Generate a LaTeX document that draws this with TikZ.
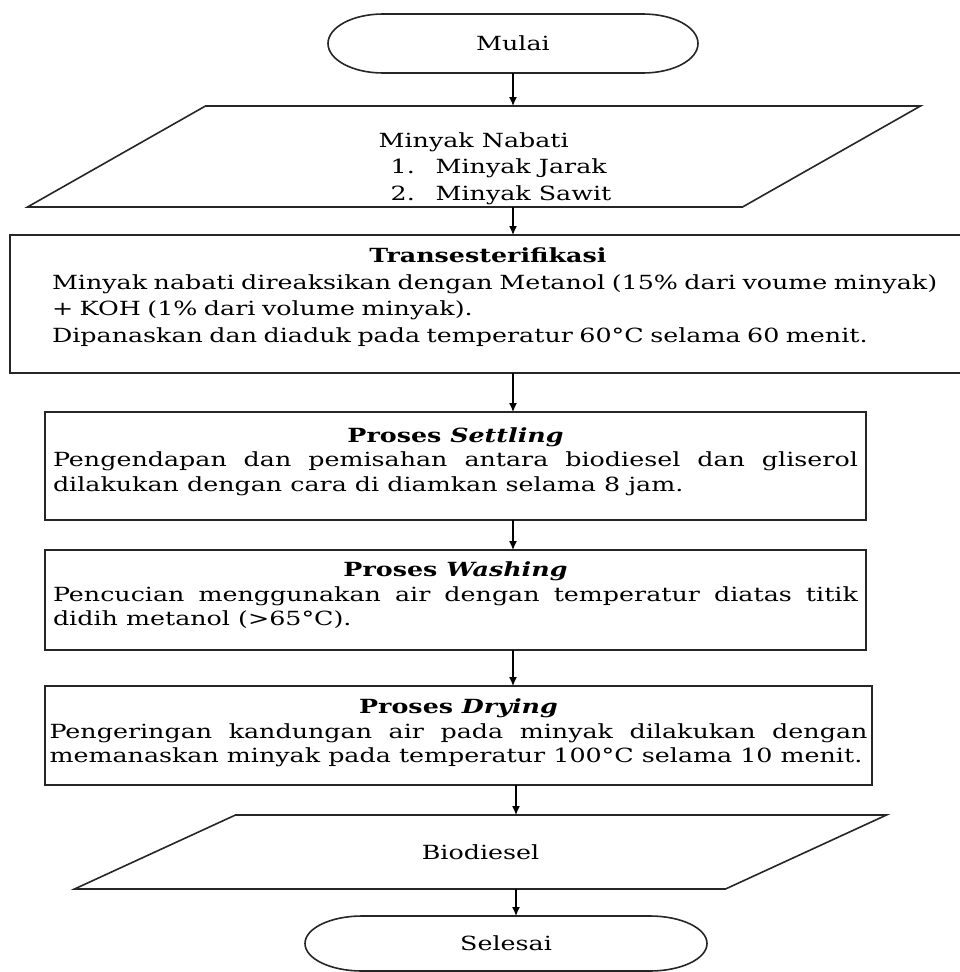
\documentclass[tikz,border=0pt]{standalone}
\usepackage{fontspec}
\setmainfont{DejaVu Serif}[FakeStretch=1.3]
\usetikzlibrary{arrows.meta,positioning,calc}
\setlength{\parindent}{0pt}

\begin{document}
\begin{tikzpicture}[x=1pt,y=1pt,>={Latex[length=9pt,width=8pt]},font=\fontsize{19.5}{24.5}\selectfont]
  \tikzstyle{outline}=[draw=black!85,line width=1.6pt]
  \tikzstyle{shapebox}=[rectangle,inner sep=0pt,outer sep=0pt]
  \tikzstyle{procbox}=[outline,rectangle,inner xsep=7pt,inner ysep=0pt,outer sep=0pt]
  \tikzstyle{flow}=[->,line width=1.3pt,black]
  \useasboundingbox (0,0) rectangle (960,-972);
  \coordinate (axisA) at (513,0);
  \coordinate (axisB) at (516,0);
  % start / input
  \node[shapebox,minimum width=370pt,minimum height=59pt] (mulai) at (513,-43.5) {Mulai};
  \draw[outline] ([xshift=55pt]mulai.north west) -- ([xshift=-55pt]mulai.north east)
    arc[start angle=90,end angle=-90,x radius=55pt,y radius=29.5pt]
    -- ([xshift=55pt]mulai.south west)
    arc[start angle=270,end angle=90,x radius=55pt,y radius=29.5pt] -- cycle;
  \node[shapebox,minimum width=715pt,minimum height=101pt,
    label={[xshift=21pt,yshift=-12pt,align=left]center:{Minyak Nabati\\[2pt]
      \hspace*{12pt}\makebox[45pt][l]{1.}Minyak Jarak\\[2pt]
      \hspace*{12pt}\makebox[45pt][l]{2.}Minyak Sawit}}] (nabati) at (474,-156.5) {};
  \draw[outline] ([xshift=89pt]nabati.north west) -- ([xshift=89pt]nabati.north east)
    -- ([xshift=-89pt]nabati.south east) -- ([xshift=-89pt]nabati.south west) -- cycle;
  % process steps
  \node[procbox,minimum width=956pt,minimum height=138pt,inner xsep=8pt,text width=940pt,
    align=left,text depth=97pt,font=\fontsize{19.5}{26.5}\selectfont] (trans) at (488,-304) {%
    {\centering\textbf{Transesterifikasi}\par}
    {\leftskip=34pt Minyak nabati direaksikan dengan Metanol (15\% dari voume minyak)\\
    + KOH (1\% dari volume minyak).\\
    Dipanaskan dan diaduk pada temperatur 60°C selama 60 menit.\par}};
  \node[procbox,minimum width=821pt,minimum height=108pt,text width=805pt,
    align=justify,text depth=62pt] (settling) at (455.5,-466) {%
    {\centering\textbf{Proses \textit{Settling}}\par}
    Pengendapan dan pemisahan antara biodiesel dan gliserol\linebreak
    dilakukan dengan cara di diamkan selama 8 jam.};
  \node[procbox,minimum width=821pt,minimum height=100pt,text width=805pt,
    align=justify,text depth=61pt] (washing) at (455.5,-600) {%
    {\centering\textbf{Proses \textit{Washing}}\par}
    Pencucian menggunakan air dengan temperatur diatas titik\linebreak
    didih metanol (>65°C).};
  \node[procbox,minimum width=827pt,minimum height=99pt,inner xsep=4.5pt,text width=818pt,
    align=justify,text depth=58pt] (drying) at (458.5,-735.5) {%
    {\centering\textbf{Proses \textit{Drying}}\par}
    Pengeringan kandungan air pada minyak dilakukan dengan\linebreak
    memanaskan minyak pada temperatur 100°C selama 10 menit.};
  % output / end
  \node[shapebox,minimum width=651pt,minimum height=74pt] (biodiesel) at (480.5,-852) {Biodiesel};
  \draw[outline] ([xshift=80.5pt]biodiesel.north west) -- ([xshift=80.5pt]biodiesel.north east)
    -- ([xshift=-80.5pt]biodiesel.south east) -- ([xshift=-80.5pt]biodiesel.south west) -- cycle;
  \node[shapebox,minimum width=402pt,minimum height=55pt] (selesai) at (506,-943.5) {Selesai};
  \draw[outline] ([xshift=57pt]selesai.north west) -- ([xshift=-57pt]selesai.north east)
    arc[start angle=90,end angle=-90,x radius=57pt,y radius=27.5pt]
    -- ([xshift=57pt]selesai.south west)
    arc[start angle=270,end angle=90,x radius=57pt,y radius=27.5pt] -- cycle;
  % connectors
  \draw[flow] (mulai.south) -- (axisA |- nabati.north);
  \draw[flow] (axisA |- nabati.south) -- (axisA |- trans.north);
  \draw[flow] (axisA |- trans.south) -- (axisA |- settling.north);
  \draw[flow] (axisA |- settling.south) -- (axisA |- washing.north);
  \draw[flow] (axisA |- washing.south) -- (axisA |- drying.north);
  \draw[flow] (axisB |- drying.south) -- (axisB |- biodiesel.north);
  \draw[flow] (axisB |- biodiesel.south) -- (axisB |- selesai.north);
\end{tikzpicture}
\end{document}
